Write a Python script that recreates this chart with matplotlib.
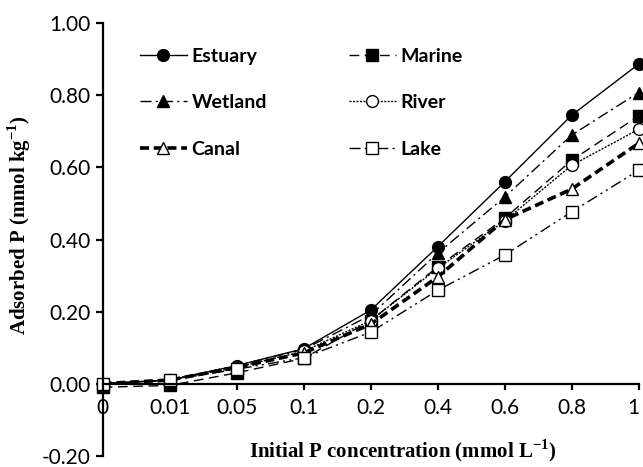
import matplotlib
matplotlib.use("Agg")
import matplotlib.pyplot as plt
from matplotlib.transforms import ScaledTranslation

plt.rcParams['font.family'] = ['Lato', 'DejaVu Sans']
plt.rcParams['mathtext.fontset'] = 'custom'
plt.rcParams['mathtext.rm'] = 'Liberation Serif:bold'
plt.rcParams['mathtext.bf'] = 'Liberation Serif:bold'

categories = ["0", "0.01", "0.05", "0.1", "0.2", "0.4", "0.6", "0.8", "1"]
estuary = [0.00, 0.01, 0.050, 0.097, 0.204, 0.380, 0.560, 0.745, 0.887]
marine  = [-0.010, -0.005, 0.030, 0.070, 0.175, 0.324, 0.459, 0.620, 0.743]
wetland = [0.00, 0.01, 0.050, 0.095, 0.190, 0.362, 0.518, 0.690, 0.808]
river   = [0.00, 0.01, 0.045, 0.090, 0.175, 0.320, 0.452, 0.606, 0.706]
canal   = [0.00, 0.01, 0.045, 0.085, 0.165, 0.296, 0.455, 0.540, 0.667]
lake    = [0.00, 0.01, 0.040, 0.072, 0.143, 0.259, 0.357, 0.477, 0.592]
yticks = [-0.20, 0.00, 0.20, 0.40, 0.60, 0.80, 1.00]

fig = plt.figure(figsize=(6.43, 4.67), dpi=100)
ax = fig.add_axes([0.1597, 0.0242, 0.8336, 0.9258])
x = list(range(len(categories)))

ms = 8.5
common = dict(color='black', clip_on=False, markeredgecolor='black', markeredgewidth=1.0)
series = [
    ("Estuary", estuary, dict(lw=1.0, ls='-', marker='o', markerfacecolor='black', ms=ms)),
    ("Marine", marine, dict(lw=1.0, dashes=(7, 4), marker='s', markerfacecolor='black', ms=ms - 0.5)),
    ("Wetland", wetland, dict(lw=1.0, dashes=(8, 3, 1.5, 3), marker='^', markerfacecolor='black', ms=ms)),
    ("River", river, dict(lw=1.0, dashes=(1.5, 1.0), marker='o', markerfacecolor='white', ms=ms)),
    ("Canal", canal, dict(lw=2.6, dashes=(2.5, 1.3), marker='^', markerfacecolor='white', ms=ms)),
    ("Lake", lake, dict(lw=1.0, dashes=(8, 3, 1.5, 3, 1.5, 3), marker='s', markerfacecolor='white', ms=ms - 0.5)),
]
handles = {}
for name, vals, st in series:
    ln, = ax.plot(x, vals, label=name, **common, **st)
    handles[name] = ln

ax.spines['top'].set_visible(False)
ax.spines['right'].set_visible(False)
ax.spines['bottom'].set_position(('data', 0))
ax.spines['left'].set_linewidth(1.6)
ax.spines['bottom'].set_linewidth(1.6)

ax.set_xlim(0, 8)
ax.set_ylim(-0.20, 1.00)
ax.set_xticks(x)
ax.set_xticklabels(categories)
ax.set_yticks(yticks)
ax.set_yticklabels([f"{v:.2f}" for v in yticks])
ax.tick_params(axis='y', direction='out', length=5, width=1.6, pad=4, labelsize=15)
ax.tick_params(axis='x', direction='out', length=4.5, width=1.6, pad=6, labelsize=15)
ax.patch.set_alpha(0)

last = ax.get_xticklabels()[-1]
last.set_transform(last.get_transform() + ScaledTranslation(-5 / 100, 0, fig.dpi_scale_trans))

order = ["Estuary", "Wetland", "Canal", "Marine", "River", "Lake"]
leg = ax.legend([handles[n] for n in order], order, ncol=2, frameon=False,
                loc='upper left', bbox_to_anchor=(0.0696, 0.944),
                borderpad=0, borderaxespad=0,
                handlelength=2.4, handletextpad=0.26, columnspacing=4.2,
                labelspacing=1.52, prop=dict(family='Lato', weight='bold', size=14))

fig.text(0.030, 0.518, r'Adsorbed P (mmol kg$^{-1}$)', rotation=90, ha='center', va='center',
         family='Liberation Serif', weight='bold', fontsize=15)
fig.text(0.627, 0.034, r'Initial P concentration (mmol L$^{-1}$)', ha='center', va='center',
         family='Liberation Serif', weight='bold', fontsize=15)

fig.savefig("out.png", dpi=100)
